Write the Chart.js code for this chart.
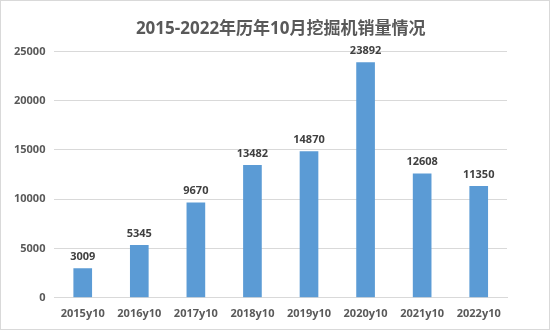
<!DOCTYPE html>
<html>
<head>
<meta charset="utf-8">
<script src="https://cdn.jsdelivr.net/npm/chart.js@4"></script>
<style>
  html, body { margin: 0; padding: 0; background: #fff; }
  #wrap { width: 548px; height: 328px; border: 1px solid #d9d9d9; }
</style>
</head>
<body>
<div id="wrap"><canvas id="sales-chart"></canvas></div>
<script>
// 挖掘机销量 (台)
const categories = ['2015y10', '2016y10', '2017y10', '2018y10', '2019y10', '2020y10', '2021y10', '2022y10'];
const salesValues = [3009, 5345, 9670, 13482, 14870, 23892, 12608, 11350];
const yTicks = [0, 5000, 10000, 15000, 20000, 25000];

const FONT = "'Open Sans', 'Noto Sans CJK SC', sans-serif";

// Draw value above each bar
const barLabels = {
    id: 'barLabels',
    afterDatasetsDraw: (chart) => {
        const ctx = chart.ctx;
        const meta = chart.getDatasetMeta(0);
        ctx.save();
        ctx.font = 'bold 11px ' + FONT;
        ctx.fillStyle = '#404040';
        ctx.textAlign = 'center';
        ctx.textBaseline = 'bottom';
        meta.data.forEach((bar, i) => {
            ctx.fillText(chart.data.datasets[0].data[i], bar.x, bar.y - 6);
        });
        ctx.restore();
    }
};

const dataSales = {
    labels: categories,
    datasets: [{
        label: '销量',
        data: salesValues,
        backgroundColor: '#5B9BD5',
        barPercentage: 0.66,
        categoryPercentage: 0.5
    }]
};

const optionsSales = {
    responsive: true,
    maintainAspectRatio: false,
    animation: false,
    layout: {
        padding: { left: 4, right: 42, top: 13, bottom: 0 }
    },
    scales: {
        x: {
            grid: { display: false, drawTicks: false },
            border: { color: '#d9d9d9' },
            ticks: {
                color: '#595959',
                font: { family: FONT, size: 11, weight: 'bold' },
                padding: 9
            }
        },
        y: {
            min: 0,
            max: 25000,
            afterBuildTicks: (axis) => {
                axis.ticks = yTicks.map(v => ({ value: v }));
            },
            grid: { color: '#d9d9d9', drawTicks: false },
            border: { display: false },
            ticks: {
                color: '#595959',
                font: { family: FONT, size: 11, weight: 'bold' },
                padding: 9,
                callback: (value) => String(value)
            }
        }
    },
    plugins: {
        legend: { display: false },
        tooltip: { enabled: false },
        title: {
            display: true,
            fullSize: false,
            text: '2015-2022年历年10月挖掘机销量情况',
            color: '#595959',
            font: { family: FONT, size: 17, weight: 'bold' },
            padding: { top: 5, bottom: 12 }
        }
    }
};

new Chart(document.querySelector('#sales-chart'), {
    type: 'bar',
    data: dataSales,
    options: optionsSales,
    plugins: [barLabels]
});
</script>
</body>
</html>
